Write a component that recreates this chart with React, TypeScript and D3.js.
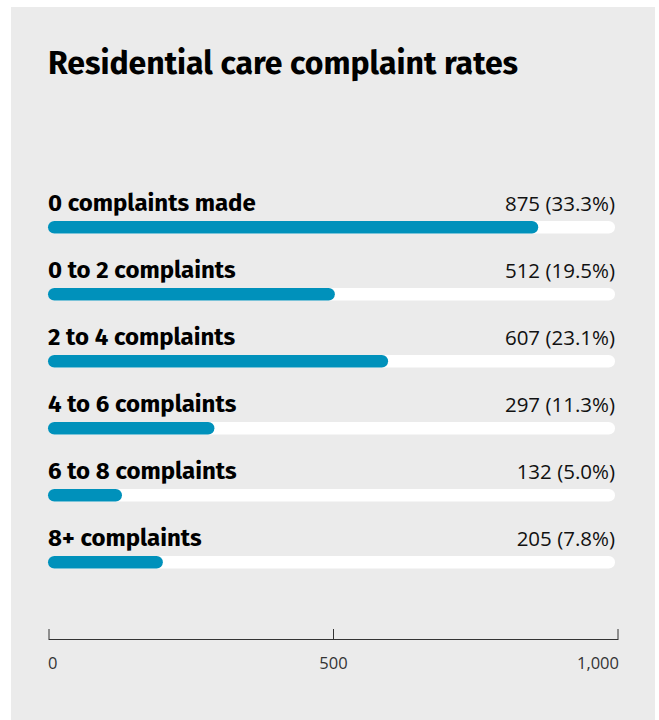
import React from "react";
import * as d3 from "d3";

const categories = [
  "0 complaints made",
  "0 to 2 complaints",
  "2 to 4 complaints",
  "4 to 6 complaints",
  "6 to 8 complaints",
  "8+ complaints",
];
const counts = [875, 512, 607, 297, 132, 205];
const percents = [33.3, 19.5, 23.1, 11.3, 5.0, 7.8];
const axisTicks = [0, 500, 1000];

const W = 659;
const H = 720;

export default function App() {
  const xAxis = d3.scaleLinear().domain([0, 1000]).range([49, 618]);
  const xBar = d3.scaleLinear().domain([0, 1012]).range([48, 615]);
  const y = d3.scalePoint<string>().domain(categories).range([221, 556]);
  const barH = 12.5;
  const fmt = d3.format(",");
  const bold = "'Fira Sans', Roboto, sans-serif";
  const reg = "'Open Sans', 'Noto Sans', sans-serif";

  return (
    <svg
      width={W}
      height={H}
      style={{ position: "absolute", left: 0, top: 0, display: "block" }}
    >
      <rect x={11} y={7} width={644} height={713} fill="#ebebeb" />
      <text
        x={48}
        y={74}
        fontFamily={bold}
        fontWeight={700}
        fontSize={32}
        fill="#000"
      >
        Residential care complaint rates
      </text>
      {categories.map((c, i) => {
        const barTop = y(c) as number;
        return (
          <g key={c}>
            <text
              x={48}
              y={barTop - 10}
              fontFamily={bold}
              fontWeight={700}
              fontSize={24}
              fill="#000"
            >
              {c}
            </text>
            <text
              x={615}
              y={barTop - 10}
              textAnchor="end"
              fontFamily={reg}
              fontSize={20.5}
              fill="#111"
            >
              {`${fmt(counts[i])} (${percents[i].toFixed(1)}%)`}
            </text>
            <rect
              x={xBar(0)}
              y={barTop}
              width={xBar(1012) - xBar(0)}
              height={barH}
              rx={barH / 2}
              fill="#ffffff"
            />
            <rect
              x={xBar(0)}
              y={barTop}
              width={xBar(counts[i]) - xBar(0)}
              height={barH}
              rx={barH / 2}
              fill="#0091bb"
            />
          </g>
        );
      })}
      <line
        x1={xAxis(0)}
        x2={xAxis(1000)}
        y1={639.5}
        y2={639.5}
        stroke="#333"
        strokeWidth={1}
      />
      {axisTicks.map((t, i) => (
        <g key={t}>
          <line
            x1={xAxis(t)}
            x2={xAxis(t)}
            y1={629}
            y2={640}
            stroke="#333"
            strokeWidth={1}
          />
          <text
            x={i === 0 ? xAxis(t) - 1 : i === axisTicks.length - 1 ? xAxis(t) + 1 : xAxis(t)}
            y={669}
            textAnchor={i === 0 ? "start" : i === axisTicks.length - 1 ? "end" : "middle"}
            fontFamily={reg}
            fontSize={16.5}
            fill="#333"
          >
            {fmt(t)}
          </text>
        </g>
      ))}
    </svg>
  );
}
